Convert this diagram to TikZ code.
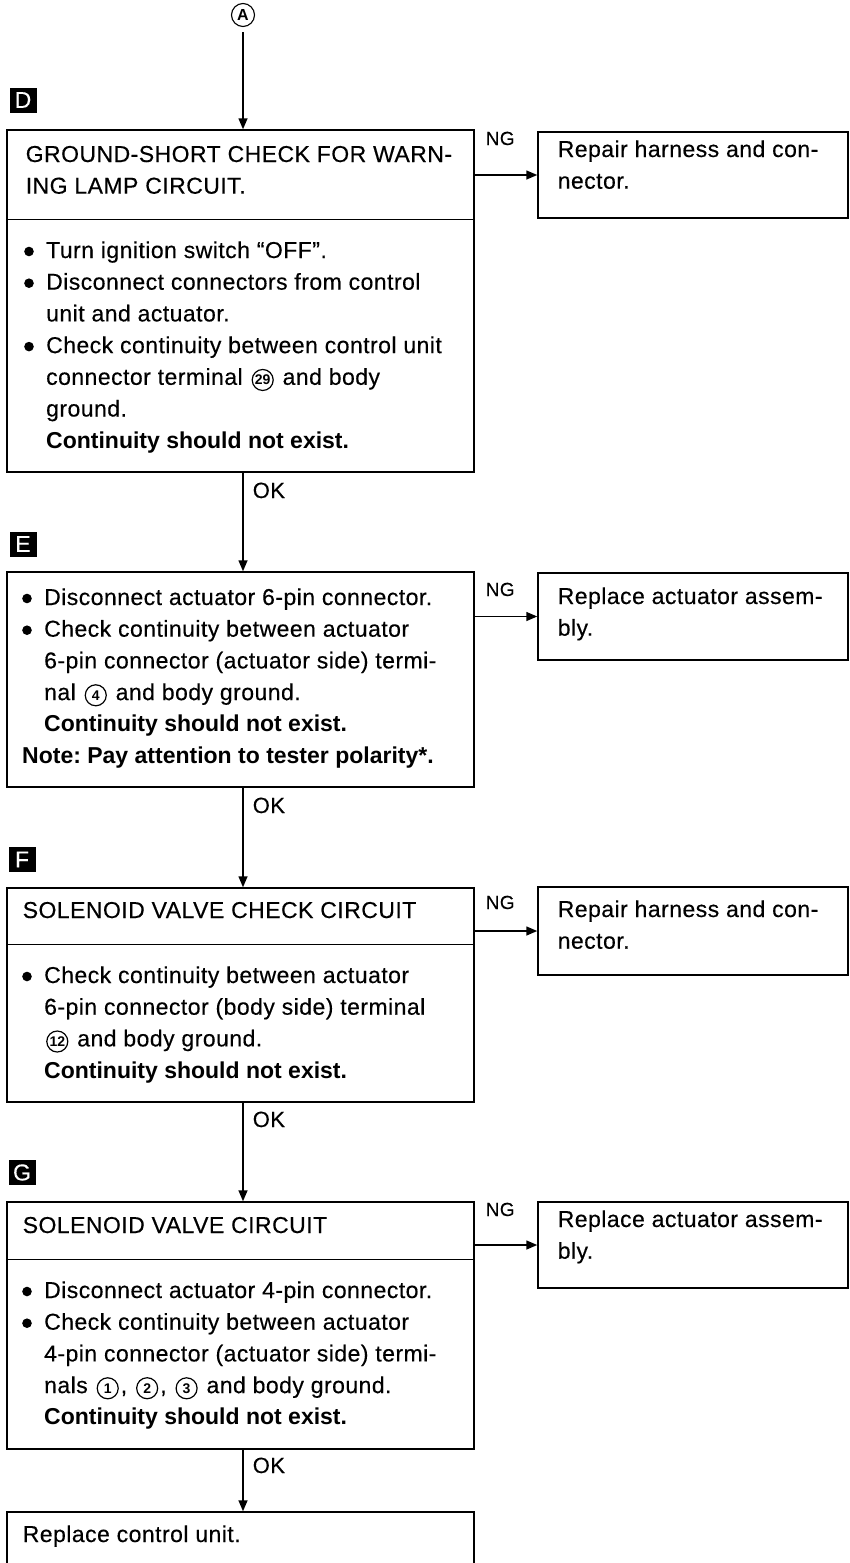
\documentclass[tikz,border=0pt]{standalone}
\usepackage{fontspec}
\setmainfont{Liberation Sans}[LetterSpace=2,UprightFeatures={FakeBold=0.35},BoldFeatures={LetterSpace=0,FakeBold=0}]
\usetikzlibrary{arrows.meta}
\newcommand\stk[1]{\vtop{\halign{##\hfil\cr#1\crcr}}}
\newcommand\bul{\makebox[22pt][l]{\tikz[baseline=0pt]\fill (5pt,6.5pt) circle (4.8pt);}}
\newcommand\ind{\hspace*{22pt}}
\newcommand\cnum[1]{\hspace{2pt}\tikz[baseline=(cn.base)]\node[circle,draw,line width=1.2pt,inner sep=0pt,minimum size=21pt,font=\fontsize{14}{14}\selectfont\bfseries](cn){#1};\hspace{2pt}}
\frenchspacing
\begin{document}
\begin{tikzpicture}[x=1pt,y=-1pt,line width=1.5pt,
  font=\fontsize{23}{31.7}\selectfont\frenchspacing,
  box/.style={draw,rectangle,inner sep=0pt},
  txt/.style={anchor=base west,inner sep=0pt},
  tag/.style={fill=black,text=white,minimum width=27pt,minimum height=25pt,inner sep=0pt,font=\fontsize{23}{23}\selectfont},
  nglab/.style={anchor=base west,inner sep=0pt,font=\fontsize{19}{19}\selectfont},
  oklab/.style={anchor=base west,inner sep=0pt,font=\fontsize{22}{22}\selectfont},
  arr/.style={-{Triangle[length=11pt,width=9pt]}}]
\useasboundingbox (0,0) rectangle (850,1563);
\clip (0,0) rectangle (850,1563);

% start
\node[circle,draw,line width=1.1pt,minimum size=23pt,inner sep=0pt,font=\fontsize{16}{16}\selectfont\bfseries] (A) at (243,15) {A};

% D
\node[tag] (tD) at (23,100) {D};
\node[box,minimum width=467pt,minimum height=342pt] (D) at (240.5,301) {};
\draw ([yshift=-90pt]D.north west) -- ([yshift=-90pt]D.north east);
\node[txt] (Dh) at (25,162) {\stk{GROUND-SHORT CHECK FOR WARN-\cr ING LAMP CIRCUIT.}};
\node[txt] (Db) at (24,258) {\stk{\bul Turn ignition switch ``OFF''.\cr
 \bul Disconnect connectors from control\cr
 \ind unit and actuator.\cr
 \bul Check continuity between control unit\cr
 \ind connector terminal \cnum{29} and body\cr
 \ind ground.\cr
 \ind\textbf{Continuity should not exist.}}};

% E
\node[tag] (tE) at (23,544) {E};
\node[box,minimum width=467pt,minimum height=215pt] (E) at (240.5,679.5) {};
\node[txt] (Eb) at (22,605) {\stk{\bul Disconnect actuator 6-pin connector.\cr
 \bul Check continuity between actuator\cr
 \ind 6-pin connector (actuator side) termi-\cr
 \ind nal \cnum{4} and body ground.\cr
 \ind\textbf{Continuity should not exist.}\cr
 \textbf{Note: Pay attention to tester polarity*.}}};

% F
\node[tag] (tF) at (22,859.5) {F};
\node[box,minimum width=467pt,minimum height=214pt] (F) at (240.5,995) {};
\draw ([yshift=-57pt]F.north west) -- ([yshift=-57pt]F.north east);
\node[txt] (Fh) at (22,918) {SOLENOID VALVE CHECK CIRCUIT};
\node[txt] (Fb) at (22,983) {\stk{\bul Check continuity between actuator\cr
 \ind 6-pin connector (body side) terminal\cr
 \ind\cnum{12} and body ground.\cr
 \ind\textbf{Continuity should not exist.}}};

% G
\node[tag] (tG) at (22,1172.5) {G};
\node[box,minimum width=467pt,minimum height=247pt] (G) at (240.5,1325.5) {};
\draw ([yshift=-58pt]G.north west) -- ([yshift=-58pt]G.north east);
\node[txt] (Gh) at (22,1233) {SOLENOID VALVE CIRCUIT};
\node[txt] (Gb) at (22,1298) {\stk{\bul Disconnect actuator 4-pin connector.\cr
 \bul Check continuity between actuator\cr
 \ind 4-pin connector (actuator side) termi-\cr
 \ind nals \cnum{1}, \cnum{2}, \cnum{3} and body ground.\cr
 \ind\textbf{Continuity should not exist.}}};

% final
\node[box,minimum width=467pt,minimum height=80pt] (H) at (240.5,1552) {};
\node[txt] (Ht) at (22,1542) {Replace control unit.};

% right boxes
\node[box,minimum width=310pt,minimum height=86pt] (R1) at (693,175) {};
\node[txt] (R1t) at (557,157) {\stk{Repair harness and con-\cr nector.}};
\node[box,minimum width=310pt,minimum height=87pt] (R2) at (693,616.5) {};
\node[txt] (R2t) at (557,604) {\stk{Replace actuator assem-\cr bly.}};
\node[box,minimum width=310pt,minimum height=88pt] (R3) at (693,931) {};
\node[txt] (R3t) at (557,917) {\stk{Repair harness and con-\cr nector.}};
\node[box,minimum width=310pt,minimum height=86pt] (R4) at (693,1245) {};
\node[txt] (R4t) at (557,1227) {\stk{Replace actuator assem-\cr bly.}};

% labels
\node[nglab] (ng1) at (485,145) {NG};
\node[nglab] (ng2) at (485,596) {NG};
\node[nglab] (ng3) at (485,909) {NG};
\node[nglab] (ng4) at (485,1216) {NG};
\node[oklab] (ok1) at (252,498) {OK};
\node[oklab] (ok2) at (252,813) {OK};
\node[oklab] (ok3) at (252,1127) {OK};
\node[oklab] (ok4) at (252,1473) {OK};

% connectors
\draw[arr,shorten <=5pt] (A) -- (A |- D.north);
\draw[arr] (D.south -| A) -- (E.north -| A);
\draw[arr] (E.south -| A) -- (F.north -| A);
\draw[arr] (F.south -| A) -- (G.north -| A);
\draw[arr] (G.south -| A) -- (H.north -| A);
\draw[arr] (R1.west -| D.east) -- (R1.west);
\draw[arr] (R2.west -| E.east) -- (R2.west);
\draw[arr] (R3.west -| F.east) -- (R3.west);
\draw[arr] (R4.west -| G.east) -- (R4.west);
\end{tikzpicture}
\end{document}
